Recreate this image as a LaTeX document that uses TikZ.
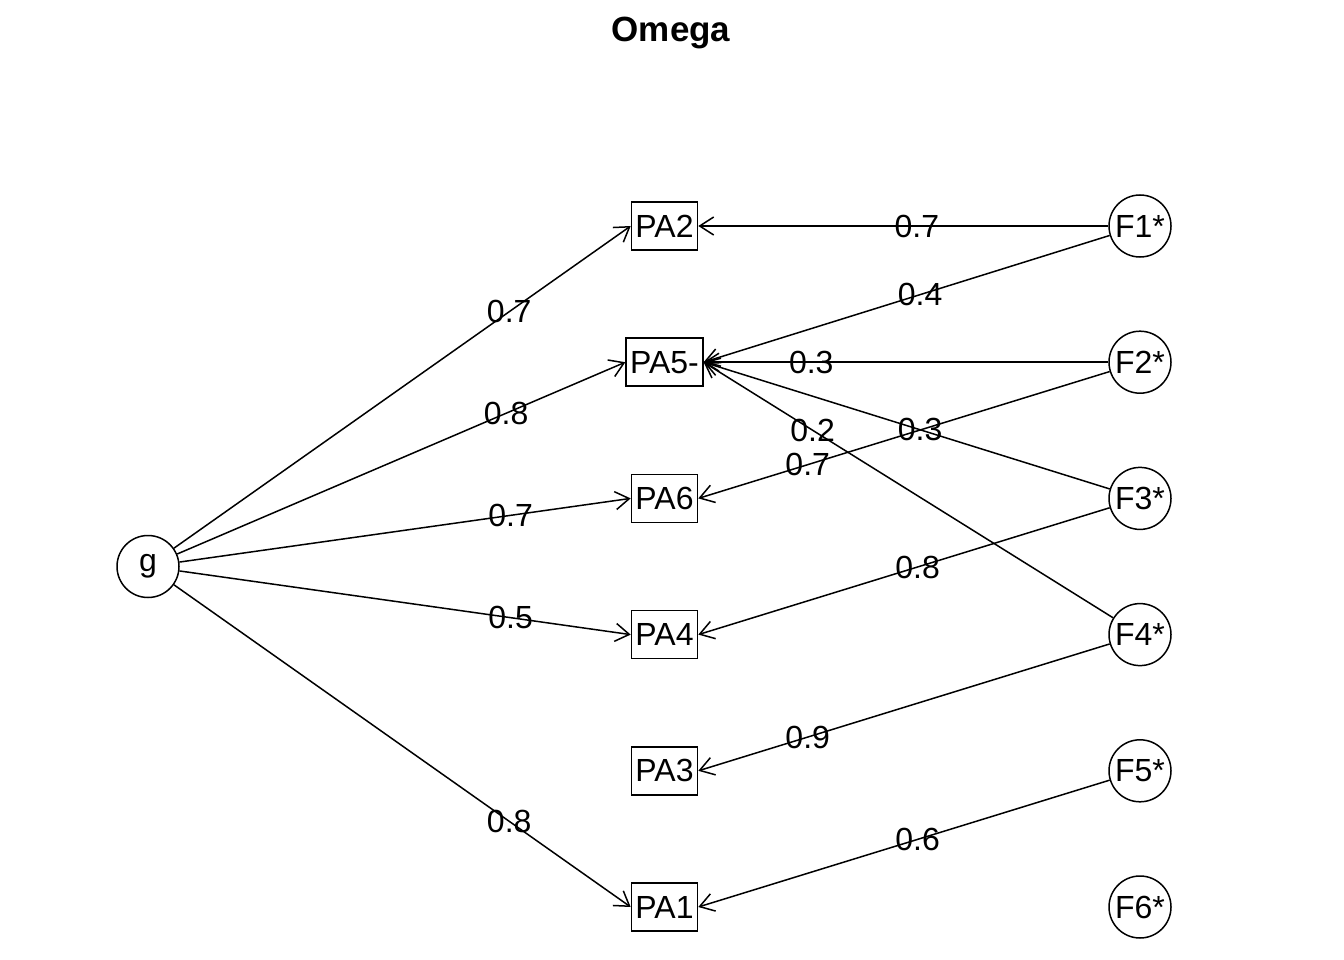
\documentclass[tikz,border=0pt]{standalone}
\usepackage{fontspec}
\setmainfont{Liberation Sans}
\usetikzlibrary{arrows.meta}
\newcommand\labfont{\fontsize{32}{37}\selectfont}
\newcommand\titfont{\bfseries\fontsize{35}{40}\selectfont}
\tikzset{
  lat/.style={circle, draw, line width=1.5pt, minimum size=62pt, inner sep=0pt, font=\labfont},
  obs/.style={rectangle, draw, line width=1.5pt, minimum height=48pt, inner xsep=4pt, inner ysep=0pt, font=\labfont},
  lpath/.style={line width=1.5pt, -{Straight Barb[length=14pt,width=18pt,line width=1.5pt]}},
  lbl/.style={font=\labfont, inner sep=0pt}
}
\begin{document}
\begin{tikzpicture}[x=1pt,y=-1pt]
\useasboundingbox (0,0) rectangle (1344,960);
\node[font=\titfont] (title) at (671,33) {Omega};
\node[lat] (g) at (148,566.5) {g};
\node[obs] (PA2) at (664.5,226) {PA2};
\node[obs] (PA5) at (664.5,362.2) {PA5-};
\node[obs] (PA6) at (664.5,498.4) {PA6};
\node[obs] (PA4) at (664.5,634.6) {PA4};
\node[obs] (PA3) at (664.5,770.8) {PA3};
\node[obs] (PA1) at (664.5,907) {PA1};
\node[lat] (F1) at (1140,226) {F1*};
\node[lat] (F2) at (1140,362.2) {F2*};
\node[lat] (F3) at (1140,498.4) {F3*};
\node[lat] (F4) at (1140,634.6) {F4*};
\node[lat] (F5) at (1140,770.8) {F5*};
\node[lat] (F6) at (1140,907) {F6*};
% general factor
\draw[lpath] (g) -- node[lbl,pos=0.734]{0.7} (PA2.west);
\draw[lpath] (g) -- node[lbl,pos=0.734]{0.8} (PA5.west);
\draw[lpath] (g) -- node[lbl,pos=0.734]{0.7} (PA6.west);
\draw[lpath] (g) -- node[lbl,pos=0.734]{0.5} (PA4.west);
\draw[lpath] (g) -- node[lbl,pos=0.734]{0.8} (PA1.west);
% group factors
\draw[lpath] (F1) -- node[lbl,pos=0.467]{0.7} (PA2.east);
\draw[lpath] (F1) -- node[lbl,pos=0.467]{0.4} (PA5.east);
\draw[lpath] (F2) -- node[lbl,pos=0.734]{0.3} (PA5.east);
\draw[lpath] (F2) -- node[lbl,pos=0.734]{0.7} (PA6.east);
\draw[lpath] (F3) -- node[lbl,pos=0.467]{0.3} (PA5.east);
\draw[lpath] (F3) -- node[lbl,pos=0.467]{0.8} (PA4.east);
\draw[lpath] (F4) -- node[lbl,pos=0.734]{0.2} (PA5.east);
\draw[lpath] (F4) -- node[lbl,pos=0.734]{0.9} (PA3.east);
\draw[lpath] (F5) -- node[lbl,pos=0.467]{0.6} (PA1.east);
\end{tikzpicture}
\end{document}
